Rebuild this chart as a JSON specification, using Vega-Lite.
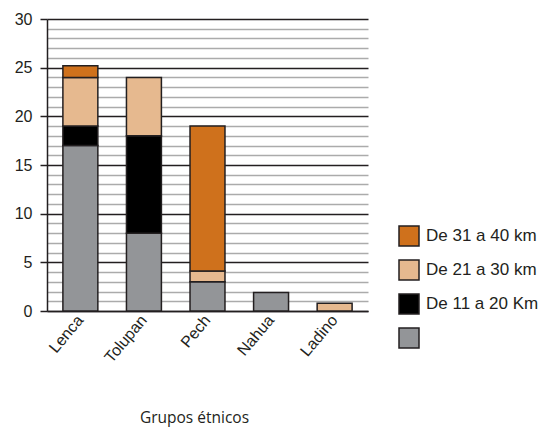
{
  "$schema": "https://vega.github.io/schema/vega-lite/v6.json",
  "autosize": {"type": "none"},
  "width": 321,
  "height": 292,
  "padding": {"left": 47, "top": 19, "right": 176, "bottom": 117},
  "background": "white",
  "config": {"view": {"stroke": null}, "font": "Liberation Sans"},
  "data": {
    "values": [
      {"grupo": "Lenca", "distancia": "Hasta 10 km", "rango": 1, "valor": 17},
      {"grupo": "Lenca", "distancia": "De 11 a 20 Km", "rango": 2, "valor": 2},
      {"grupo": "Lenca", "distancia": "De 21 a 30 km", "rango": 3, "valor": 5},
      {"grupo": "Lenca", "distancia": "De 31 a 40 km", "rango": 4, "valor": 1.2},
      {"grupo": "Tolupan", "distancia": "Hasta 10 km", "rango": 1, "valor": 8},
      {"grupo": "Tolupan", "distancia": "De 11 a 20 Km", "rango": 2, "valor": 10},
      {"grupo": "Tolupan", "distancia": "De 21 a 30 km", "rango": 3, "valor": 6},
      {"grupo": "Pech", "distancia": "Hasta 10 km", "rango": 1, "valor": 3},
      {"grupo": "Pech", "distancia": "De 21 a 30 km", "rango": 3, "valor": 1.1},
      {"grupo": "Pech", "distancia": "De 31 a 40 km", "rango": 4, "valor": 14.9},
      {"grupo": "Nahua", "distancia": "Hasta 10 km", "rango": 1, "valor": 1.9},
      {"grupo": "Ladino", "distancia": "De 21 a 30 km", "rango": 3, "valor": 0.8}
    ]
  },
  "mark": {"type": "bar", "stroke": "#231f20", "strokeWidth": 1.5},
  "encoding": {
    "x": {
      "field": "grupo",
      "type": "nominal",
      "sort": ["Lenca", "Tolupan", "Pech", "Nahua", "Ladino"],
      "scale": {"paddingInner": 0.45, "paddingOuter": 0.25},
      "axis": {
        "title": "Grupos étnicos",
        "titleFont": "Open Sans",
        "titleFontSize": 15.5,
        "titleFontWeight": "normal",
        "titleColor": "#231f20",
        "titleX": 147,
        "titleY": 111,
        "titleBaseline": "alphabetic",
        "labelFont": "Liberation Sans",
        "labelAngle": -50,
        "labelAlign": "right",
        "labelBaseline": "middle",
        "labelFontSize": 16,
        "labelColor": "#231f20",
        "labelPadding": 6,
        "ticks": false,
        "domain": true,
        "domainColor": "#231f20",
        "domainWidth": 1.5,
        "grid": false
      }
    },
    "y": {
      "field": "valor",
      "type": "quantitative",
      "aggregate": "sum",
      "stack": "zero",
      "scale": {"domain": [0, 30], "nice": false},
      "axis": {
        "title": null,
        "values": [0,1,2,3,4,5,6,7,8,9,10,11,12,13,14,15,16,17,18,19,20,21,22,23,24,25,26,27,28,29,30],
        "labelExpr": "datum.value % 5 === 0 ? datum.label : ''",
        "labelFont": "Liberation Sans",
        "labelFontSize": 16,
        "labelColor": "#231f20",
        "labelPadding": 8,
        "tickSize": 7,
        "tickWidth": 1.5,
        "tickColor": {"condition": {"test": "datum.value % 5 === 0", "value": "#231f20"}, "value": "transparent"},
        "domainColor": "#231f20",
        "domainWidth": 1.5,
        "grid": true,
        "gridColor": {"condition": {"test": "datum.value % 5 === 0", "value": "#231f20"}, "value": "#ababab"},
        "gridWidth": 1.5,
        "gridOpacity": 1
      }
    },
    "color": {
      "field": "distancia",
      "type": "nominal",
      "scale": {
        "domain": ["De 31 a 40 km", "De 21 a 30 km", "De 11 a 20 Km", "Hasta 10 km"],
        "range": ["#cf711c", "#e6b98f", "#000000", "#939598"]
      },
      "legend": {
        "title": null,
        "orient": "none",
        "legendX": 351,
        "legendY": 206,
        "symbolType": "square",
        "symbolSize": 400,
        "symbolStrokeColor": "#231f20",
        "symbolStrokeWidth": 1.5,
        "symbolOpacity": 1,
        "labelFont": "Liberation Sans",
        "labelFontSize": 17,
        "labelColor": "#231f20",
        "labelOffset": 6,
        "rowPadding": 8,
        "labelLimit": 200,
        "labelExpr": "datum.label === 'Hasta 10 km' ? '' : datum.label"
      }
    },
    "order": {"field": "rango", "type": "quantitative", "aggregate": "min"}
  }
}
